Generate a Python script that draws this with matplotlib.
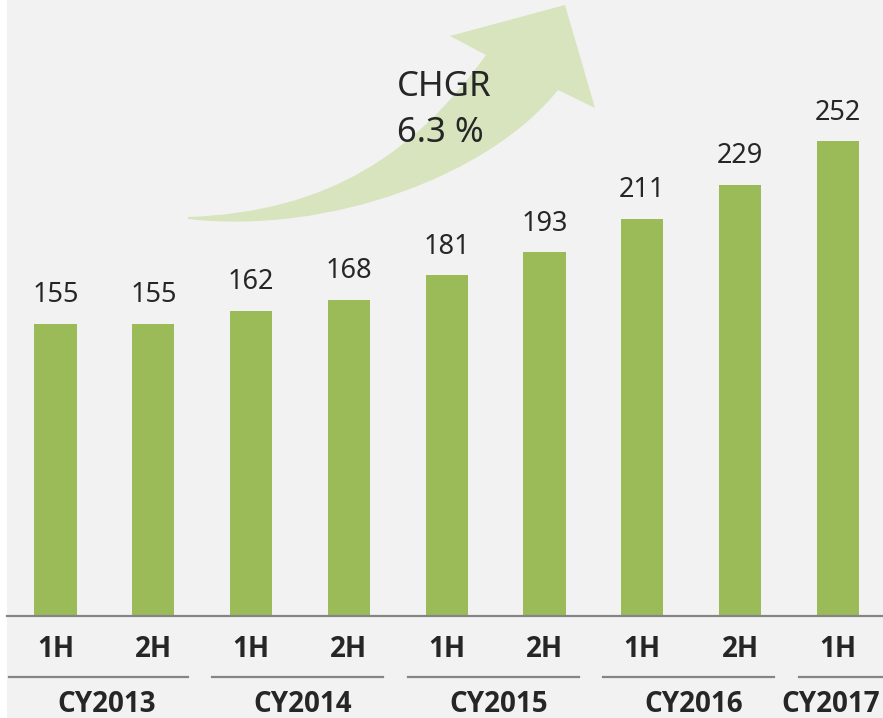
import matplotlib.pyplot as plt
from matplotlib.path import Path
from matplotlib.patches import PathPatch, Rectangle
from matplotlib import transforms

plt.rcParams["font.family"] = ["Noto Sans", "DejaVu Sans"]
LABEL_FONT = ["Open Sans", "Noto Sans CJK KR", "DejaVu Sans"]

halves = ["1H", "2H", "1H", "2H", "1H", "2H", "1H", "2H", "1H"]
values = [155, 155, 162, 168, 181, 193, 211, 229, 252]
years = ["CY2013", "CY2014", "CY2015", "CY2016", "CY2017"]
year_bars = [(0, 1), (2, 3), (4, 5), (6, 7), (8, 8)]
growth_label = ["CHGR", "6.3 %"]

BAR = "#9bbb59"
ARROW = "#d7e4bd"
TEXT = "#262626"
GREY = "#858585"
BG = "#f2f2f2"

W, H = 883, 718
fig = plt.figure(figsize=(W / 100, H / 100), dpi=100, facecolor=BG)

# pixel-space layer for the background strip, growth arrow and caption
bg = fig.add_axes([0, 0, 1, 1], zorder=0)
bg.set_xlim(0, W)
bg.set_ylim(H, 0)
bg.axis("off")
bg.add_patch(Rectangle((0, 0), 7, H, color="white", lw=0))

verts = [
    (188, 217),
    (330, 212), (416, 152), (486, 55),
    (450, 36),
    (565, 5),
    (595, 108),
    (558, 90),
    (490, 175), (330, 235), (188, 219),
    (188, 217),
]
codes = [Path.MOVETO,
         Path.CURVE4, Path.CURVE4, Path.CURVE4,
         Path.LINETO, Path.LINETO, Path.LINETO, Path.LINETO,
         Path.CURVE4, Path.CURVE4, Path.CURVE4,
         Path.CLOSEPOLY]
bg.add_patch(PathPatch(Path(verts, codes), facecolor=ARROW, edgecolor="none"))
bg.text(397, 96, growth_label[0], fontsize=25, color=TEXT, va="baseline")
bg.text(397, 142, growth_label[1], fontsize=25, color=TEXT, va="baseline")

# bar chart
ax = fig.add_axes([7 / W, (H - 616) / H, (W - 7) / W, 616 / H], zorder=1)
ax.patch.set_alpha(0)
x = list(range(len(values)))
ax.bar(x, values, width=0.43, color=BAR)
ax.set_xlim(-0.496, 8.461)
ax.set_ylim(0, 327)

for s in ("top", "right", "left"):
    ax.spines[s].set_visible(False)
ax.spines["bottom"].set_color(GREY)
ax.spines["bottom"].set_linewidth(1.6)
ax.set_yticks([])
ax.set_xticks([])

for xi, v in zip(x, values):
    ax.annotate(str(v), (xi, v), xytext=(0, 15.5), textcoords="offset points",
                ha="center", va="baseline", fontsize=19.5, color=TEXT)

for xi, lab in zip(x, halves):
    ax.annotate(lab, (xi, 0), xytext=(0, -29.5), textcoords="offset points",
                ha="center", va="baseline", fontsize=20, color=TEXT,
                family=LABEL_FONT, fontweight="bold", annotation_clip=False)

trans = transforms.blended_transform_factory(ax.transData, ax.transAxes)
line_y = -61 / 616
for (a, b), year in zip(year_bars, years):
    x0 = a - 0.48 if a == 0 else a - 0.4
    last = b == len(values) - 1
    x1 = ax.get_xlim()[1] if last else b + 0.35
    ax.plot([x0, x1], [line_y, line_y], transform=trans, color=GREY,
            lw=1.6, clip_on=False)
    dx = -5 if last else 2
    ax.annotate(year, ((a + b) / 2, 0), xytext=(dx, -69), textcoords="offset points",
                ha="center", va="baseline", fontsize=20, color=TEXT,
                family=LABEL_FONT, fontweight="bold", annotation_clip=False)

fig.savefig("out.png", dpi=100, facecolor=BG)
